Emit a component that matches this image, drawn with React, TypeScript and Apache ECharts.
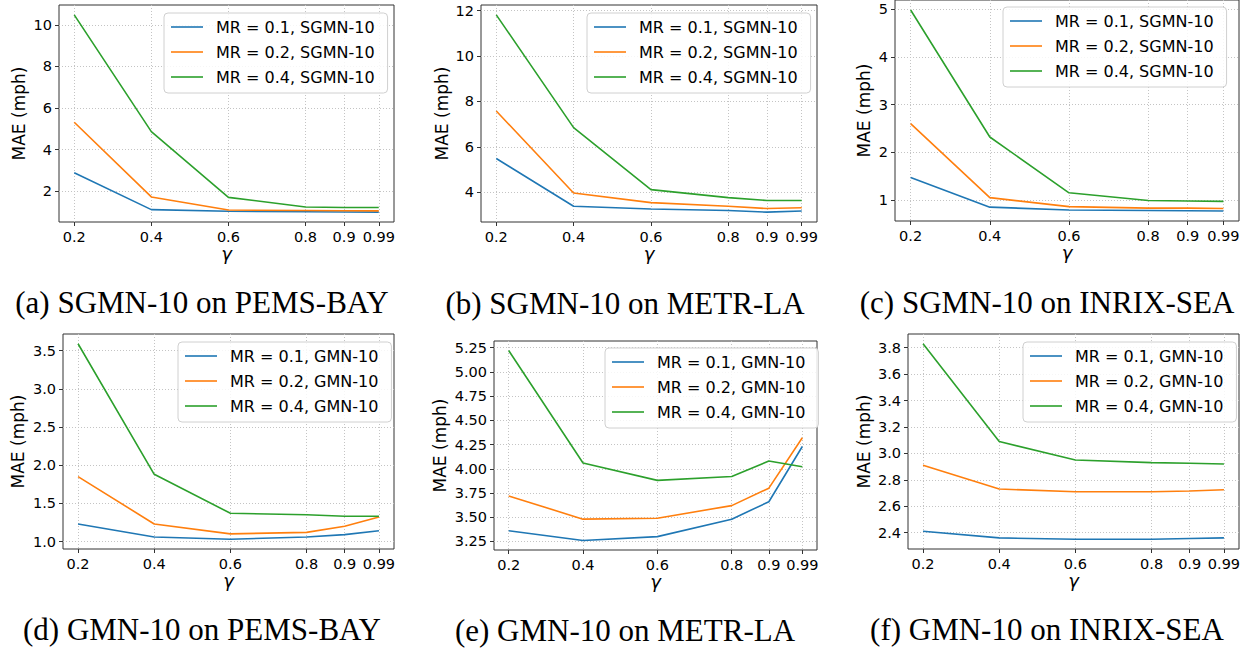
import React, { useEffect, useRef } from "react";
import * as echarts from "echarts";

// ---- data ----
const gammas = [0.2, 0.4, 0.6, 0.8, 0.9, 0.99];
const xTicks = [0.2, 0.4, 0.6, 0.8, 0.9, 0.99];

// (a) SGMN-10 on PEMS-BAY
const sgmnPemsMR01 = [2.89, 1.12, 1.04, 1.02, 1.01, 1.0];
const sgmnPemsMR02 = [5.32, 1.73, 1.1, 1.08, 1.07, 1.06];
const sgmnPemsMR04 = [10.48, 4.87, 1.71, 1.25, 1.22, 1.22];
// (b) SGMN-10 on METR-LA
const sgmnMetrMR01 = [5.49, 3.39, 3.27, 3.2, 3.13, 3.18];
const sgmnMetrMR02 = [7.58, 3.97, 3.55, 3.39, 3.29, 3.32];
const sgmnMetrMR04 = [11.81, 6.85, 4.12, 3.77, 3.64, 3.64];
// (c) SGMN-10 on INRIX-SEA
const sgmnInrixMR01 = [1.47, 0.85, 0.79, 0.78, 0.775, 0.77];
const sgmnInrixMR02 = [2.6, 1.05, 0.86, 0.83, 0.83, 0.82];
const sgmnInrixMR04 = [4.98, 2.32, 1.15, 0.99, 0.98, 0.97];
// (d) GMN-10 on PEMS-BAY
const gmnPemsMR01 = [1.23, 1.06, 1.03, 1.06, 1.09, 1.14];
const gmnPemsMR02 = [1.85, 1.23, 1.1, 1.12, 1.2, 1.32];
const gmnPemsMR04 = [3.59, 1.88, 1.37, 1.35, 1.33, 1.33];
// (e) GMN-10 on METR-LA
const gmnMetrMR01 = [3.36, 3.26, 3.3, 3.48, 3.66, 4.23];
const gmnMetrMR02 = [3.72, 3.48, 3.49, 3.62, 3.8, 4.32];
const gmnMetrMR04 = [5.22, 4.06, 3.88, 3.92, 4.08, 4.02];
// (f) GMN-10 on INRIX-SEA
const gmnInrixMR01 = [2.41, 2.36, 2.35, 2.35, 2.355, 2.36];
const gmnInrixMR02 = [2.91, 2.73, 2.71, 2.71, 2.715, 2.725];
const gmnInrixMR04 = [3.83, 3.09, 2.95, 2.93, 2.925, 2.92];

const yTicksA = [2, 4, 6, 8, 10];
const yTicksB = [4, 6, 8, 10, 12];
const yTicksC = [1, 2, 3, 4, 5];
const yTicksD = [1.0, 1.5, 2.0, 2.5, 3.0, 3.5];
const yTicksE = [3.25, 3.5, 3.75, 4.0, 4.25, 4.5, 4.75, 5.0, 5.25];
const yTicksF = [2.4, 2.6, 2.8, 3.0, 3.2, 3.4, 3.6, 3.8];

const mrLabels = ["MR = 0.1", "MR = 0.2", "MR = 0.4"];
const colors = ["#1f77b4", "#ff7f0e", "#2ca02c"];

const panels = [
  { model: "SGMN-10", caption: "(a) SGMN-10 on PEMS-BAY", lines: [sgmnPemsMR01, sgmnPemsMR02, sgmnPemsMR04], ticks: yTicksA, dec: 0,
    grid: { left: 59, top: 5, width: 335, height: 217 }, legend: { left: 164, top: 13 }, cap: [202, 302], nameGap: 32 },
  { model: "SGMN-10", caption: "(b) SGMN-10 on METR-LA", lines: [sgmnMetrMR01, sgmnMetrMR02, sgmnMetrMR04], ticks: yTicksB, dec: 0,
    grid: { left: 481, top: 5, width: 336, height: 217 }, legend: { left: 587, top: 13 }, cap: [625, 303], nameGap: 31 },
  { model: "SGMN-10", caption: "(c) SGMN-10 on INRIX-SEA", lines: [sgmnInrixMR01, sgmnInrixMR02, sgmnInrixMR04], ticks: yTicksC, dec: 0,
    grid: { left: 895, top: -3, width: 344, height: 224 }, legend: { left: 1003, top: 7 }, cap: [1047, 302], nameGap: 22.5 },
  { model: "GMN-10", caption: "(d) GMN-10 on PEMS-BAY", lines: [gmnPemsMR01, gmnPemsMR02, gmnPemsMR04], ticks: yTicksD, dec: 1,
    grid: { left: 63, top: 334, width: 331, height: 215 }, legend: { left: 178, top: 342 }, cap: [202, 629], nameGap: 36.5 },
  { model: "GMN-10", caption: "(e) GMN-10 on METR-LA", lines: [gmnMetrMR01, gmnMetrMR02, gmnMetrMR04], ticks: yTicksE, dec: 2,
    grid: { left: 494, top: 341, width: 323, height: 209 }, legend: { left: 605, top: 348 }, cap: [625, 630], nameGap: 45.5 },
  { model: "GMN-10", caption: "(f) GMN-10 on INRIX-SEA", lines: [gmnInrixMR01, gmnInrixMR02, gmnInrixMR04], ticks: yTicksF, dec: 1,
    grid: { left: 908, top: 334, width: 331, height: 215 }, legend: { left: 1023, top: 342 }, cap: [1047, 629], nameGap: 35.5 },
];

const SANS = "DejaVu Sans";

function buildOption() {
  const grids: any[] = [];
  const xAxes: any[] = [];
  const yAxes: any[] = [];
  const series: any[] = [];
  const legends: any[] = [];
  const graphics: any[] = [];
  const xSpan = xTicks[xTicks.length - 1] - xTicks[0];
  const xMin = xTicks[0] - 0.05 * xSpan;
  const xMax = xTicks[xTicks.length - 1] + 0.05 * xSpan;

  panels.forEach((p, i) => {
    const all = p.lines.flat();
    const lo = Math.min(...all);
    const hi = Math.max(...all);
    const m = 0.05 * (hi - lo);
    grids.push({ ...p.grid, show: true, borderColor: "#333", borderWidth: 1, backgroundColor: "transparent" });
    xAxes.push({
      type: "value", gridIndex: i, min: xMin, max: xMax,
      name: "γ", nameLocation: "middle", nameGap: 22,
      nameTextStyle: { fontFamily: SANS, fontSize: 18, fontStyle: "italic", color: "#000" },
      axisLine: { show: false },
      axisTick: { show: true, length: 4, inside: false, customValues: xTicks, lineStyle: { color: "#333" } },
      axisLabel: { customValues: xTicks, margin: 7, fontFamily: SANS, fontSize: 14.5, color: "#000", formatter: (v: number) => String(v) },
      splitLine: { show: true, lineStyle: { color: "#c4c4c4", type: [1, 2], width: 1 } },
    });
    yAxes.push({
      type: "value", gridIndex: i, min: lo - m, max: hi + m,
      name: "MAE (mph)", nameLocation: "middle", nameGap: p.nameGap, nameRotate: 90,
      nameTextStyle: { fontFamily: SANS, fontSize: 17, color: "#000" },
      axisLine: { show: false },
      axisTick: { show: true, length: 4, inside: false, customValues: p.ticks, lineStyle: { color: "#333" } },
      axisLabel: { customValues: p.ticks, margin: 7, fontFamily: SANS, fontSize: 14.5, color: "#000", formatter: (v: number) => v.toFixed(p.dec) },
      splitLine: { show: true, lineStyle: { color: "#c4c4c4", type: [1, 2], width: 1 } },
    });
    const names: string[] = [];
    p.lines.forEach((vals, k) => {
      const name = `${mrLabels[k]}, ${p.model}`;
      names.push(name);
      series.push({
        type: "line", name, xAxisIndex: i, yAxisIndex: i,
        data: gammas.map((g, j) => [g, vals[j]]),
        symbol: "none", showSymbol: false, color: colors[k],
        lineStyle: { color: colors[k], width: 1.6 },
        z: 3,
      });
    });
    legends.push({
      orient: "vertical", left: p.legend.left, top: p.legend.top,
      data: names.map((n) => ({ name: n, icon: "path://M0,0h32v1.6h-32z" })),
      itemWidth: 32, itemHeight: 14, itemGap: 9,
      padding: [6, 13, 8, 7],
      backgroundColor: "rgba(255,255,255,0.85)", borderColor: "#d0d0d0", borderWidth: 1, borderRadius: 4,
      textStyle: { fontFamily: SANS, fontSize: 16, color: "#000", padding: [0, 0, 0, 8] },
      selectedMode: false,
    });
    graphics.push({
      type: "text", x: p.cap[0], y: p.cap[1],
      style: {
        text: p.caption, font: "31px 'Liberation Serif'", fill: "#000",
        align: "center", verticalAlign: "middle", textAlign: "center", textVerticalAlign: "middle",
      },
    });
  });

  return {
    animation: false,
    backgroundColor: "#fff",
    grid: grids, xAxis: xAxes, yAxis: yAxes, series, legend: legends, graphic: graphics,
  };
}

export default function App() {
  const ref = useRef<HTMLDivElement>(null);
  useEffect(() => {
    if (!ref.current) return;
    const chart = echarts.init(ref.current, undefined, { renderer: "svg" });
    chart.setOption(buildOption() as any);
    return () => chart.dispose();
  }, []);
  return <div ref={ref} style={{ position: "absolute", left: 0, top: 0, width: 1254, height: 651, background: "#fff" }} />;
}
